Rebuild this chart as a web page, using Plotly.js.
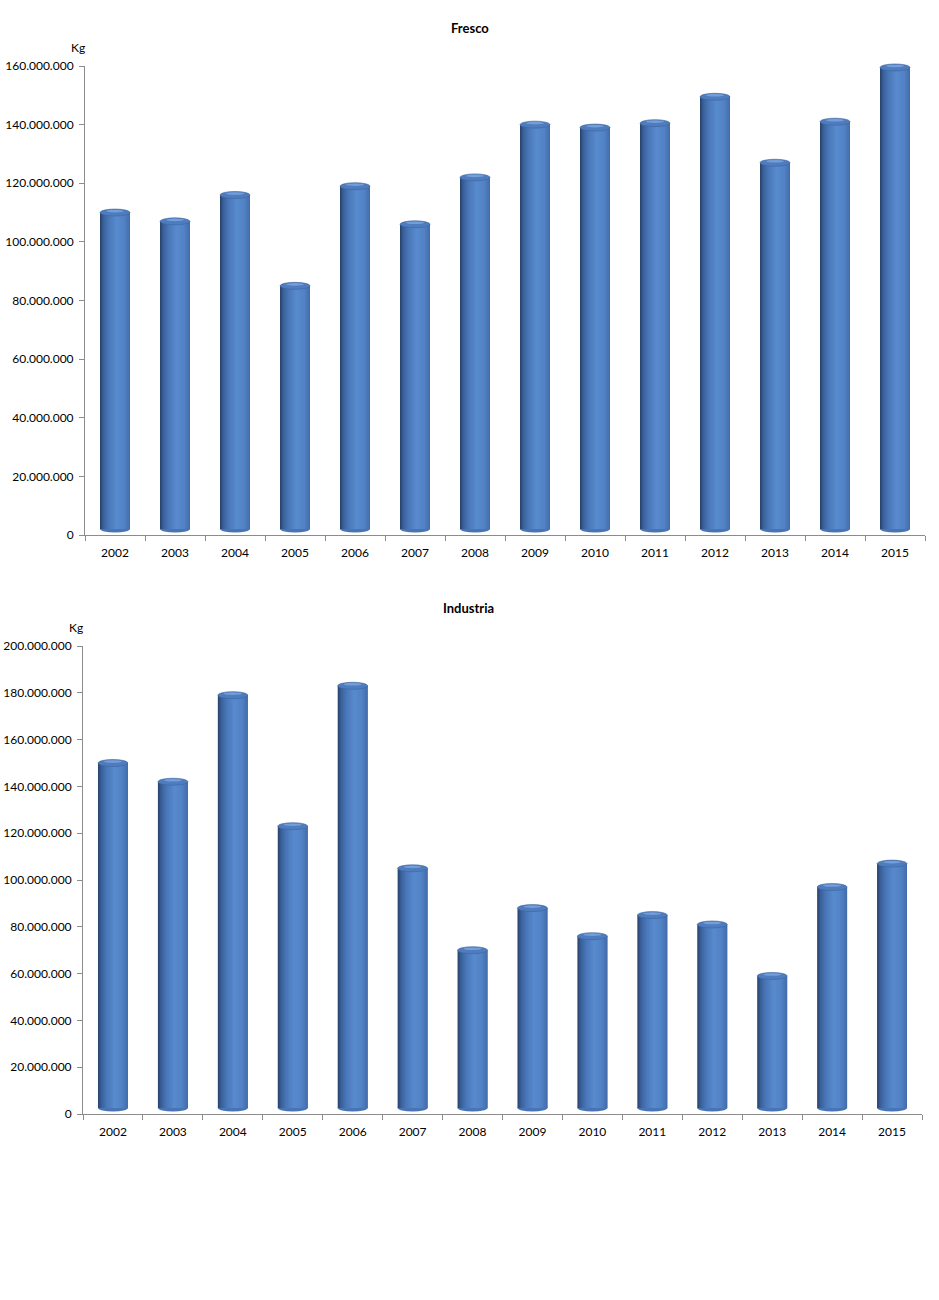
<!DOCTYPE html>
<html>
<head>
<meta charset="utf-8">
<script src="https://cdn.plot.ly/plotly-3.0.1.min.js"></script>
<style>html,body{margin:0;padding:0;background:#fff}#chart{width:939px;height:1300px}</style>
</head>
<body>
<div id="chart"></div>
<script>
const years = ['2002','2003','2004','2005','2006','2007','2008','2009','2010','2011','2012','2013','2014','2015'];
const frescoTitle = 'Fresco';
const industriaTitle = 'Industria';
const unitLabel = 'Kg';
const frescoValues = [110e6,107e6,116e6,85e6,119e6,106e6,122e6,140e6,139e6,140.5e6,149.5e6,127e6,141e6,159.5e6];
const industriaValues = [150e6,142e6,179e6,123e6,183e6,105e6,70e6,88e6,76e6,85e6,81e6,59e6,97e6,107e6];

const W = 939, H = 1300;
const FONT = 'Lato, "Open Sans", sans-serif';
const BARW = 0.5;
const NSTRIP = 30;
const ELL_H = 3.5; // px half height of caps

// cylinder shading profile (left -> right)
const stops = [[0,[38,64,104]],[0.1,[56,94,150]],[0.3,[74,120,186]],[0.55,[88,138,206]],[0.8,[82,130,197]],[1,[66,108,170]]];
function shade(t){
  for(let i=0;i<stops.length-1;i++){
    const [t0,c0]=stops[i],[t1,c1]=stops[i+1];
    if(t>=t0&&t<=t1){const f=(t-t0)/(t1-t0);
      return 'rgb('+c0.map((v,k)=>Math.round(v+(c1[k]-v)*f)).join(',')+')';}
  }
  return 'rgb(66,108,170)';
}

const charts = [
  {title: frescoTitle, values: frescoValues, xd:[85/W, 925/W], yd:[1-535/H, 1-66/H], R:160e6, xa:'x', ya:'y', titleY:28, kgX:78, kgY:47, titleX:470},
  {title: industriaTitle, values: industriaValues, xd:[83/W, 922/W], yd:[1-1114/H, 1-646/H], R:200e6, xa:'x2', ya:'y2', titleY:608, kgX:76, kgY:627, titleX:468}
];

const traces = [];
const shapes = [];
const annotations = [];
const layout = {
  width: W, height: H, margin:{l:0,r:0,t:0,b:0},
  paper_bgcolor:'#fff', plot_bgcolor:'rgba(0,0,0,0)',
  showlegend:false, barmode:'overlay', separators:',.',
  font:{family:FONT, size:12, color:'#000'},
};

charts.forEach((c, ci) => {
  const plotHpx = (c.yd[1]-c.yd[0])*H;
  const gapPx = 2.5;
  const baseVal = (ELL_H + gapPx) / plotHpx * c.R;
  const step = BARW/NSTRIP;
  for(let k=0;k<NSTRIP;k++){
    const off = -BARW/2 + k*step;
    const wdt = Math.min(step*2.5, BARW/2 - off);
    traces.push({
      type:'bar', x: years, y: c.values.map(v=>v-baseVal), base: baseVal,
      xaxis:c.xa, yaxis:c.ya,
      width: wdt, offset: off,
      marker:{color: shade((k+0.5)/NSTRIP), line:{width:0}},
      hoverinfo:'skip'
    });
  }
  const axSuffix = ci===0 ? '' : '2';
  layout['xaxis'+axSuffix] = {
    domain:c.xd, anchor:c.ya, type:'category', range:[-0.5, years.length-0.5],
    showline:true, linecolor:'#8c8c8c', linewidth:1,
    ticks:'outside', ticklen:5, tickcolor:'#8c8c8c', tickson:'boundaries',
    ticklabelstandoff:7,
    showgrid:false, zeroline:false, tickfont:{family:FONT,size:12,color:'#000'}, fixedrange:true
  };
  layout['yaxis'+axSuffix] = {
    domain:c.yd, anchor:c.xa, range:[0,c.R], dtick: c.R/(ci===0?8:10),
    tickformat:',d', showline:true, linecolor:'#8c8c8c', linewidth:1,
    ticks:'outside', ticklen:5, tickcolor:'#8c8c8c', ticklabelstandoff:3,
    showgrid:false, zeroline:false, tickfont:{family:FONT,size:12,color:'#000'}, fixedrange:true
  };
  const xw = c.xd[1]-c.xd[0], yh = c.yd[1]-c.yd[0];
  const eh = ELL_H / H;
  c.values.forEach((v,i)=>{
    const xc = c.xd[0] + (i+0.5)/years.length*xw;
    const hw = BARW/2/years.length*xw;
    const yb = c.yd[0] + (ELL_H + gapPx)/H;
    shapes.push({type:'circle', xref:'paper', yref:'paper', layer:'below',
      x0:xc-hw, x1:xc+hw, y0:yb-eh, y1:yb+eh,
      fillcolor:'rgb(72,116,180)', line:{width:0}});
    const yt = c.yd[0] + v/c.R*yh;
    shapes.push({type:'circle', xref:'paper', yref:'paper', layer:'above',
      x0:xc-hw, x1:xc+hw, y0:yt-eh, y1:yt+eh,
      fillcolor:'rgb(78,124,190)', line:{width:0.6, color:'rgb(60,100,160)'}});
    shapes.push({type:'circle', xref:'paper', yref:'paper', layer:'above',
      x0:xc-hw*0.6, x1:xc+hw*0.6, y0:yt+eh*0.05, y1:yt+eh*0.8,
      fillcolor:'rgba(130,170,225,0.75)', line:{width:0}});
  });
  annotations.push({text:'<b>'+c.title+'</b>', xref:'paper', yref:'paper', x:c.titleX/W, y:1-c.titleY/H,
    xanchor:'center', yanchor:'middle', showarrow:false, font:{family:FONT,size:13,color:'#000'}});
  annotations.push({text:unitLabel, xref:'paper', yref:'paper', x:c.kgX/W, y:1-c.kgY/H,
    xanchor:'center', yanchor:'middle', showarrow:false, font:{family:FONT,size:12,color:'#000'}});
});
layout.shapes = shapes;
layout.annotations = annotations;
Plotly.newPlot('chart', traces, layout, {displayModeBar:false, staticPlot:true});
</script>
</body>
</html>
